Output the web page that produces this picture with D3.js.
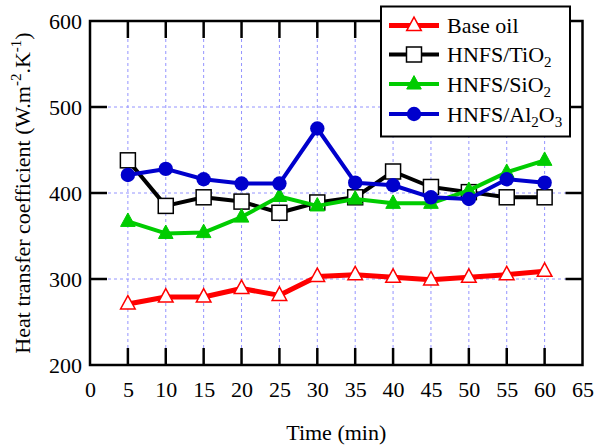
<!DOCTYPE html>
<html>
<head>
<meta charset="utf-8">
<script src="https://cdn.jsdelivr.net/npm/d3@7"></script>
<style>
  html, body { margin: 0; padding: 0; background: #fff; }
  svg { display: block; }
  svg text { font-family: "Liberation Serif", "Times New Roman", serif; }
</style>
</head>
<body>
<svg id="chart" width="595" height="448"></svg>
<script>
// Sampling times (min)
const times = [5, 10, 15, 20, 25, 30, 35, 40, 45, 50, 55, 60];

// Heat transfer coefficient (W.m^-2.K^-1) per fluid
const baseOil = [271, 279, 279, 289, 281, 303, 305, 302, 299, 302, 305, 309];
const tio2    = [438, 385, 395, 390, 377, 389, 395, 425, 407, 401, 395, 395];
const sio2    = [367, 353, 354, 372, 396, 385, 393, 388, 388, 403, 424, 438];
const al2o3   = [421, 428, 416, 411, 411, 475, 412, 409, 395, 393, 416, 412];

// Axis ticks
const xTicks = [0, 5, 10, 15, 20, 25, 30, 35, 40, 45, 50, 55, 60, 65];
const yTicks = [200, 300, 400, 500, 600];

const series = [
  { name: "Base oil", sub: null, values: baseOil, color: "#ff0000", marker: "triOpen", width: 5 },
  { name: "HNFS/TiO", sub: [["2", true]], values: tio2, color: "#000000", marker: "square", width: 4 },
  { name: "HNFS/SiO", sub: [["2", true]], values: sio2, color: "#00cc00", marker: "triFill", width: 4 },
  { name: "HNFS/Al", sub: [["2", true], ["O", false], ["3", true]], values: al2o3, color: "#0000cc", marker: "circle", width: 4 }
];

const FS = 22;
const svg = d3.select("#chart");
const m = { left: 90, right: 12.5, top: 21, bottom: 83 };
const W = 595, H = 448;
const x = d3.scaleLinear().domain([0, 65]).range([m.left, W - m.right]);
const y = d3.scaleLinear().domain([200, 600]).range([H - m.bottom, m.top]);

const x0 = x(0), x1 = x(65), y0 = y(200), y1 = y(600);
const tickLen = 17;

// Dashed grid
const grid = svg.append("g");
grid.selectAll("line.vg").data(xTicks.filter(t => t > 0 && t < 65)).join("line")
  .attr("x1", d => x(d)).attr("x2", d => x(d)).attr("y1", y1).attr("y2", y0)
  .attr("stroke", "#9494ff").attr("stroke-width", 1).attr("stroke-dasharray", "3,3");
grid.selectAll("line.hg").data(yTicks.filter(t => t > 200 && t < 600)).join("line")
  .attr("x1", x0).attr("x2", x1).attr("y1", d => y(d)).attr("y2", d => y(d))
  .attr("stroke", "#9494ff").attr("stroke-width", 1).attr("stroke-dasharray", "3,3");

// Axes with inward ticks on all four sides
const innerX = xTicks.filter(t => t > 0 && t < 65);
const innerY = yTicks.filter(t => t > 200 && t < 600);

const axB = svg.append("g").attr("transform", `translate(0,${y0})`)
  .call(d3.axisBottom(x).tickValues(xTicks).tickSize(0).tickPadding(24).tickFormat(d3.format("d")));
const axL = svg.append("g").attr("transform", `translate(${x0},0)`)
  .call(d3.axisLeft(y).tickValues(yTicks).tickSize(0).tickPadding(8).tickFormat(d3.format("d")));
[axB, axL].forEach(a => {
  a.attr("font-family", null).attr("font-size", null);
  a.select(".domain").remove();
  a.selectAll("text").style("font-size", FS + "px").attr("fill", "#000");
});
axB.selectAll("text").attr("dy", "0.35em");

const ticks = svg.append("g").attr("stroke", "#000").attr("stroke-width", 2.5);
innerX.forEach(t => {
  ticks.append("line").attr("x1", x(t)).attr("x2", x(t)).attr("y1", y0).attr("y2", y0 - tickLen);
  ticks.append("line").attr("x1", x(t)).attr("x2", x(t)).attr("y1", y1).attr("y2", y1 + tickLen);
});
innerY.forEach(t => {
  ticks.append("line").attr("x1", x0).attr("x2", x0 + tickLen).attr("y1", y(t)).attr("y2", y(t));
  ticks.append("line").attr("x1", x1).attr("x2", x1 - tickLen).attr("y1", y(t)).attr("y2", y(t));
});

// Frame
svg.append("rect").attr("x", x0).attr("y", y1).attr("width", x1 - x0).attr("height", y0 - y1)
  .attr("fill", "none").attr("stroke", "#000").attr("stroke-width", 2.5);

// Marker drawing
function drawMarker(g, type, color, cx, cy) {
  if (type === "circle") {
    g.append("circle").attr("cx", cx).attr("cy", cy).attr("r", 7.2).attr("fill", color);
  } else if (type === "square") {
    const h = 7.5;
    g.append("rect").attr("x", cx - h).attr("y", cy - h).attr("width", 2 * h).attr("height", 2 * h)
      .attr("fill", "#fff").attr("stroke", "#000").attr("stroke-width", 1.5);
  } else {
    const r = 8.4;
    const pts = [[cx, cy - r], [cx + r * 0.87, cy + r * 0.6], [cx - r * 0.87, cy + r * 0.6]];
    g.append("path").attr("d", "M" + pts.map(p => p.join(",")).join("L") + "Z")
      .attr("fill", type === "triOpen" ? "#fff" : color)
      .attr("stroke", color).attr("stroke-width", type === "triOpen" ? 1.5 : 1);
  }
}

const line = d3.line().x(d => x(d[0])).y(d => y(d[1]));
series.forEach(s => {
  const g = svg.append("g");
  const pts = times.map((t, i) => [t, s.values[i]]);
  g.append("path").attr("d", line(pts)).attr("fill", "none")
    .attr("stroke", s.color).attr("stroke-width", s.width).attr("stroke-linejoin", "round");
  pts.forEach(p => drawMarker(g, s.marker, s.color, x(p[0]), y(p[1])));
});

// Legend
const lg = svg.append("g");
lg.append("rect").attr("x", 381).attr("y", 6.5).attr("width", 189).attr("height", 130)
  .attr("fill", "#fff").attr("stroke", "#000").attr("stroke-width", 2);
const rowsY = [25.5, 54.5, 84, 114];
series.forEach((s, i) => {
  const yy = rowsY[i];
  lg.append("line").attr("x1", 389).attr("x2", 439).attr("y1", yy).attr("y2", yy)
    .attr("stroke", s.color).attr("stroke-width", s.width);
  drawMarker(lg, s.marker, s.color, 414, yy);
  const t = lg.append("text").attr("x", 447).attr("y", yy).attr("dy", "0.35em")
    .style("font-size", FS + "px").attr("fill", "#000");
  t.append("tspan").text(s.name);
  if (s.sub) {
    s.sub.forEach(([txt, isSub]) => {
      t.append("tspan").style("font-size", isSub ? "15px" : FS + "px")
        .attr("dy", isSub ? 5 : -5).text(txt);
    });
  }
});

// Axis titles
svg.append("text").attr("x", (x0 + x1) / 2).attr("y", 440).attr("text-anchor", "middle")
  .style("font-size", FS + "px").attr("fill", "#000").text("Time (min)");

const yt = svg.append("text").attr("transform", `translate(30,${(y0 + y1) / 2}) rotate(-90)`)
  .attr("text-anchor", "middle").style("font-size", FS + "px").attr("fill", "#000");
yt.append("tspan").text("Heat transfer coefficient (W.m");
yt.append("tspan").style("font-size", "15px").attr("dy", -9).text("-2");
yt.append("tspan").attr("dy", 9).text(".K");
yt.append("tspan").style("font-size", "15px").attr("dy", -9).text("-1");
yt.append("tspan").attr("dy", 9).text(")");
</script>
</body>
</html>
